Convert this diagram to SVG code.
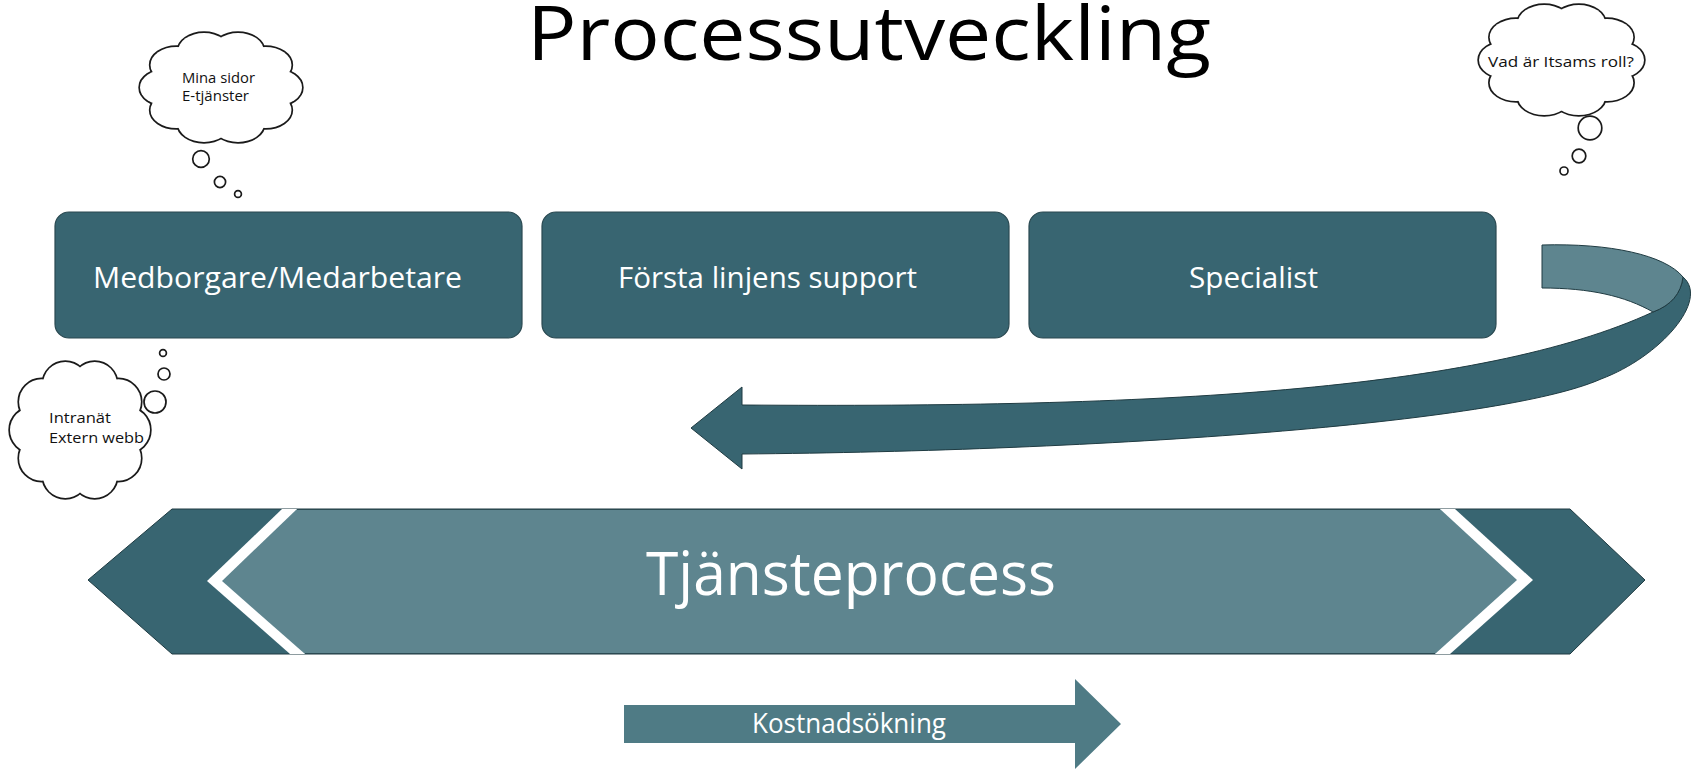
<svg xmlns="http://www.w3.org/2000/svg" xmlns:xlink="http://www.w3.org/1999/xlink" width="1696" height="769" viewBox="0 0 1696 769">
<style>
.box{fill:#386571;stroke:#2a4951;stroke-width:1.2}
.btxt{font-family:"Open Sans","Liberation Sans",sans-serif;fill:#ffffff;font-size:29px}
.ctxt{font-family:"Open Sans","Liberation Sans",sans-serif;fill:#111111;font-size:15px}
.dark{fill:#386571}
.light{fill:#5e858f}
.edge{stroke:#1f3b42;stroke-width:1}
.cstroke{fill:none;stroke:#1a1a1a;stroke-width:3.4}
.cfill{fill:#ffffff;stroke:none}
.bub{fill:#ffffff;stroke:#1a1a1a;stroke-width:1.7}
</style>
<defs>
<g id="cc">
<circle cx="84" cy="50" r="16" vector-effect="non-scaling-stroke"/>
<circle cx="77.5" cy="70" r="16" vector-effect="non-scaling-stroke"/>
<circle cx="60.5" cy="82.3" r="16" vector-effect="non-scaling-stroke"/>
<circle cx="39.5" cy="82.3" r="16" vector-effect="non-scaling-stroke"/>
<circle cx="22.5" cy="70" r="16" vector-effect="non-scaling-stroke"/>
<circle cx="16" cy="50" r="16" vector-effect="non-scaling-stroke"/>
<circle cx="22.5" cy="30" r="16" vector-effect="non-scaling-stroke"/>
<circle cx="39.5" cy="17.7" r="16" vector-effect="non-scaling-stroke"/>
<circle cx="60.5" cy="17.7" r="16" vector-effect="non-scaling-stroke"/>
<circle cx="77.5" cy="30" r="16" vector-effect="non-scaling-stroke"/>
<circle cx="50" cy="50" r="37" vector-effect="non-scaling-stroke"/>
</g>
</defs>
<rect x="0" y="0" width="1696" height="769" fill="#ffffff"/>

<g id="title">
<text x="869" y="60" text-anchor="middle" font-family="'Open Sans','Liberation Sans',sans-serif" font-size="75" fill="#000000" textLength="684" lengthAdjust="spacingAndGlyphs">Processutveckling</text>
</g>

<g id="tjansteprocess">
<polygon class="dark edge" points="88,580 172,509 1570,509 1645,580 1570,654 172,654"/>
<polygon fill="#ffffff" points="207,581 282,509 1455,509 1533,580 1450,654 290,654"/>
<polygon class="light" points="222,581 297,509 1440,509 1517,580 1435,654 305,654"/>
<line x1="297" y1="509.5" x2="1440" y2="509.5" stroke="#2a4951" stroke-width="1"/>
<line x1="305" y1="653.5" x2="1435" y2="653.5" stroke="#2a4951" stroke-width="1"/>
<text x="851" y="595" text-anchor="middle" font-family="'Open Sans','Liberation Sans',sans-serif" font-size="60" fill="#ffffff" textLength="410" lengthAdjust="spacingAndGlyphs">Tjänsteprocess</text>
</g>

<g id="connectors">
<path id="curved-arrow-dark" class="dark edge" d="M1683,277 C1710,300 1660,357 1601,379 C1500,424 1100,451 742,454 L742,469 L691,428 L742,387 L742,405 C1150,408 1480,392 1653,312 Q1680,302 1683,277 Z"/>
<path id="curved-arrow-light" class="light edge" d="M1542,245 C1610,243 1665,255 1683,277 Q1680,302 1653,312 C1625,296 1590,288 1542,288 Z"/>
</g>

<g id="kostnad">
<polygon fill="#4f7b85" points="624,705 1075,705 1075,679 1121,724 1075,769 1075,743 624,743"/>
<text x="849" y="733" text-anchor="middle" font-family="'Open Sans','Liberation Sans',sans-serif" font-size="27" fill="#ffffff" textLength="194" lengthAdjust="spacingAndGlyphs">Kostnadsökning</text>
</g>

<g id="box-medborgare">
<rect class="box" x="55" y="212" width="467" height="126" rx="14"/>
<text class="btxt" x="277.5" y="288" text-anchor="middle" textLength="369" lengthAdjust="spacingAndGlyphs">Medborgare/Medarbetare</text>
</g>
<g id="box-forsta">
<rect class="box" x="542" y="212" width="467" height="126" rx="14"/>
<text class="btxt" x="767.5" y="288" text-anchor="middle" textLength="299" lengthAdjust="spacingAndGlyphs">Första linjens support</text>
</g>
<g id="box-specialist">
<rect class="box" x="1029" y="212" width="467" height="126" rx="14"/>
<text class="btxt" x="1253.5" y="288" text-anchor="middle" textLength="129" lengthAdjust="spacingAndGlyphs">Specialist</text>
</g>

<g id="cloud-mina">
<g transform="translate(140,31.1) scale(1.62,1.128)">
<use xlink:href="#cc" class="cstroke"/>
<use xlink:href="#cc" class="cfill"/>
</g>
<text class="ctxt"><tspan x="182" y="82.5" textLength="73" lengthAdjust="spacingAndGlyphs">Mina sidor</tspan><tspan x="182" y="101" textLength="67" lengthAdjust="spacingAndGlyphs">E-tjänster</tspan></text>
<circle class="bub" cx="201" cy="159" r="8.3"/>
<circle class="bub" cx="220" cy="182" r="5.6"/>
<circle class="bub" cx="238" cy="194" r="3.4"/>
</g>

<g id="cloud-itsam">
<g transform="translate(1479,3.06) scale(1.65,1.139)">
<use xlink:href="#cc" class="cstroke"/>
<use xlink:href="#cc" class="cfill"/>
</g>
<text class="ctxt" x="1488" y="67" font-size="16" textLength="146" lengthAdjust="spacingAndGlyphs">Vad är Itsams roll?</text>
<circle class="bub" cx="1590" cy="128" r="11.8"/>
<circle class="bub" cx="1579" cy="156" r="6.8"/>
<circle class="bub" cx="1564" cy="171" r="4"/>
</g>

<g id="cloud-intranat">
<g transform="translate(10,359.6) scale(1.40,1.408)">
<use xlink:href="#cc" class="cstroke"/>
<use xlink:href="#cc" class="cfill"/>
</g>
<text class="ctxt" font-size="15.5"><tspan x="49" y="423" textLength="62" lengthAdjust="spacingAndGlyphs">Intranät</tspan><tspan x="49" y="443" textLength="95" lengthAdjust="spacingAndGlyphs">Extern webb</tspan></text>
<circle class="bub" cx="163" cy="353" r="3.4"/>
<circle class="bub" cx="164" cy="374" r="6"/>
<circle class="bub" cx="155" cy="402" r="11"/>
</g>
</svg>
